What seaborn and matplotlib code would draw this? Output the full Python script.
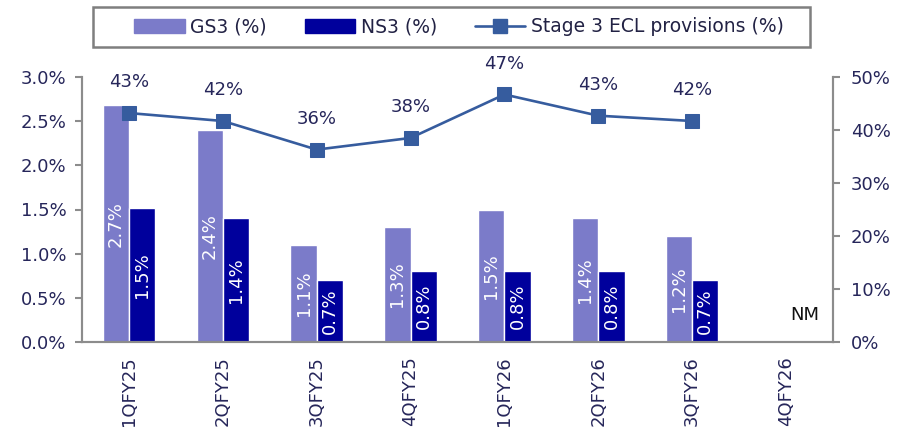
import numpy as np
import pandas as pd
import matplotlib
matplotlib.use("Agg")
import matplotlib.pyplot as plt
import seaborn as sns

# ------------------------------
# Data
# ------------------------------
quarters = ["1QFY25", "2QFY25", "3QFY25", "4QFY25", "1QFY26", "2QFY26", "3QFY26", "4QFY26"]
gs3 = [2.68, 2.40, 1.10, 1.30, 1.50, 1.40, 1.20, np.nan]
ns3 = [1.52, 1.40, 0.70, 0.80, 0.80, 0.80, 0.70, np.nan]
gs3_labels = ["2.7%", "2.4%", "1.1%", "1.3%", "1.5%", "1.4%", "1.2%", ""]
ns3_labels = ["1.5%", "1.4%", "0.7%", "0.8%", "0.8%", "0.8%", "0.7%", ""]
ecl = [43.2, 41.7, 36.3, 38.5, 46.7, 42.7, 41.7]
ecl_labels = ["43%", "42%", "36%", "38%", "47%", "43%", "42%"]

gs3_color = "#7B7BC9"
ns3_color = "#00009C"
line_color = "#365C9E"
text_color = "#26265A"
spine_color = "#8C8C8C"

sns.set_style("white")
plt.rcParams["font.family"] = ["DejaVu Sans"]

df = pd.DataFrame({
    "Quarter": quarters * 2,
    "Series": ["GS3 (%)"] * len(quarters) + ["NS3 (%)"] * len(quarters),
    "Value": gs3 + ns3,
})

fig = plt.figure(figsize=(9.04, 4.37), dpi=100)
ax = fig.add_axes([82 / 904, 95 / 437, 751 / 904, 265 / 437])

sns.barplot(data=df, x="Quarter", y="Value", hue="Series", order=quarters,
            hue_order=["GS3 (%)", "NS3 (%)"], palette=[gs3_color, ns3_color],
            width=0.56, gap=0, saturation=1, ax=ax, legend=False)

# value labels inside bars
for cont, labels in zip(ax.containers, [gs3_labels, ns3_labels]):
    for bar, lab in zip(cont, labels):
        h = bar.get_height()
        if not lab or np.isnan(h):
            continue
        ax.text(bar.get_x() + bar.get_width() / 2, h / 2, lab, rotation=90,
                ha="center", va="center", color="white", fontsize=13)

ax.set_xlim(-0.5, len(quarters) - 0.5)
ax.set_ylim(0, 3.0)
ax.set_yticks(np.arange(0, 3.01, 0.5))
ax.set_yticklabels([f"{v:.1f}%" for v in np.arange(0, 3.01, 0.5)])
ax.set_xlabel("")
ax.set_ylabel("")
ax.set_xticks(np.arange(len(quarters)))
ax.set_xticklabels(quarters, rotation=90)
ax.tick_params(axis="x", which="major", length=0, pad=10, labelsize=13, labelcolor=text_color)
ax.set_xticks(np.arange(-0.5, len(quarters)), minor=True)
ax.tick_params(axis="x", which="minor", length=5, width=1.5, color=spine_color)
ax.tick_params(axis="y", length=5, width=1.5, color=spine_color, labelsize=13,
               labelcolor=text_color, left=True, pad=6)

ax.text(len(quarters) - 1 + 0.2, 0.3, "NM", ha="center", va="center",
        fontsize=13, color="#111111")

# ------------------------------
# ECL line on right axis
# ------------------------------
ax2 = ax.twinx()
x_pos = np.arange(len(ecl))
sns.lineplot(x=x_pos, y=ecl, ax=ax2, color=line_color, linewidth=1.9,
             marker="s", markersize=10.5, markeredgecolor=line_color)
for xi, yi, lab in zip(x_pos, ecl, ecl_labels):
    ax2.annotate(lab, (xi, yi), xytext=(0, 22), textcoords="offset points",
                 ha="center", va="center", fontsize=13, color=text_color)
ax2.set_ylim(0, 50)
ax2.set_yticks(np.arange(0, 51, 10))
ax2.set_yticklabels([f"{v}%" for v in range(0, 51, 10)])
ax2.tick_params(axis="y", length=5, width=1.5, color=spine_color, labelsize=13,
                labelcolor=text_color, right=True, pad=8)
ax2.set_xlim(-0.5, len(quarters) - 0.5)

for a in (ax, ax2):
    a.spines["top"].set_visible(False)
    for s in ("left", "right", "bottom"):
        a.spines[s].set_color(spine_color)
        a.spines[s].set_linewidth(1.5)

# ------------------------------
# Legend (frame drawn separately, it is wider on the left)
# ------------------------------
handles = [
    plt.Rectangle((0, 0), 1, 1, color=gs3_color),
    plt.Rectangle((0, 0), 1, 1, color=ns3_color),
    plt.Line2D([], [], color=line_color, linewidth=1.9, marker="s", markersize=10.5),
]
leg = fig.legend(handles, ["GS3 (%)", "NS3 (%)", "Stage 3 ECL provisions (%)"],
                 loc="center", bbox_to_anchor=(459 / 904, 1 - 27 / 437), ncol=3,
                 frameon=False, fontsize=13.5, handlelength=2.7,
                 handleheight=0.75, columnspacing=2.0, handletextpad=0.3,
                 borderpad=0.6, borderaxespad=0)
for t in leg.get_texts():
    t.set_color("#222244")
fig.add_artist(plt.Rectangle((93 / 904, 1 - 47 / 437), 717 / 904, 40 / 437,
                             transform=fig.transFigure, fill=False,
                             edgecolor="#7F7F7F", linewidth=1.8))

plt.savefig("out.png", dpi=100)
plt.close()
